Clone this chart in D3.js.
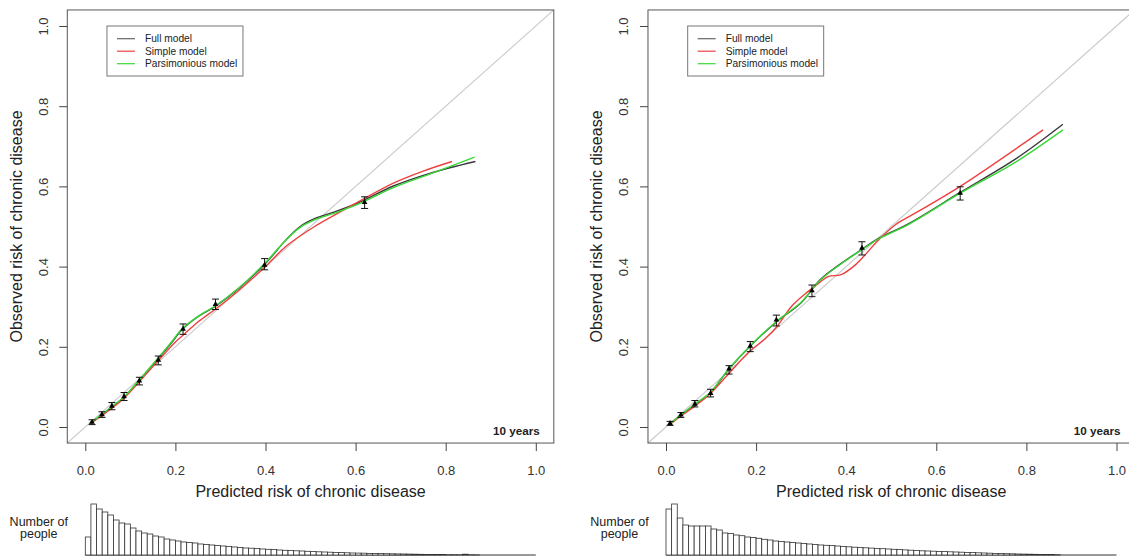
<!DOCTYPE html>
<html>
<head>
<meta charset="utf-8">
<script src="https://cdn.jsdelivr.net/npm/d3@7"></script>
<style>
  body { margin: 0; background: #fff; }
  svg { display: block; font-family: "Liberation Sans", Arial, sans-serif; }
</style>
</head>
<body>
<svg id="chart" width="1129" height="557"></svg>
<script>
// ---- data ----
const axisTicks = [0, 0.2, 0.4, 0.6, 0.8, 1.0];
const legendLabels = ["Full model", "Simple model", "Parsimonious model"];
const horizonLabel = "10 years";
const xTitle = "Predicted risk of chronic disease";
const yTitle = "Observed risk of chronic disease";
const histTitle = ["Number of", "people"];
const binWidth = 0.0125;

// left panel: observed groups (triangles + 95% CI)
const leftPredicted = [0.015, 0.037, 0.059, 0.086, 0.12, 0.162, 0.217, 0.289, 0.398, 0.62];
const leftObserved  = [0.012, 0.031, 0.052, 0.076, 0.115, 0.167, 0.244, 0.306, 0.404, 0.56];
const leftLower     = [0.006, 0.024, 0.043, 0.066, 0.105, 0.155, 0.231, 0.293, 0.392, 0.545];
const leftUpper     = [0.018, 0.038, 0.061, 0.086, 0.124, 0.177, 0.257, 0.319, 0.420, 0.574];

// left panel: smoothed calibration curves [predicted, observed]
const leftFull = [[0.01,0.009],[0.04,0.033],[0.06,0.051],[0.086,0.074],[0.12,0.117],[0.16,0.168],
  [0.19,0.208],[0.215,0.243],[0.25,0.275],[0.29,0.302],[0.34,0.345],[0.4,0.408],[0.445,0.466],
  [0.477,0.5],[0.51,0.52],[0.55,0.535],[0.604,0.558],[0.684,0.601],[0.763,0.632],[0.866,0.662]];
const leftSimple = [[0.01,0.008],[0.04,0.031],[0.06,0.048],[0.086,0.072],[0.12,0.113],[0.16,0.163],
  [0.2,0.212],[0.22,0.232],[0.25,0.262],[0.29,0.295],[0.34,0.34],[0.4,0.4],[0.445,0.45],
  [0.509,0.5],[0.564,0.535],[0.62,0.57],[0.684,0.608],[0.75,0.638],[0.814,0.662]];
const leftParsimonious = [[0.01,0.009],[0.04,0.034],[0.06,0.052],[0.086,0.075],[0.12,0.118],[0.16,0.17],
  [0.19,0.21],[0.215,0.245],[0.25,0.276],[0.29,0.303],[0.34,0.346],[0.4,0.41],[0.445,0.466],
  [0.477,0.498],[0.51,0.517],[0.55,0.532],[0.604,0.555],[0.684,0.597],[0.763,0.63],[0.864,0.673]];

// right panel
const rightPredicted = [0.009, 0.033, 0.064, 0.099, 0.14, 0.187, 0.245, 0.324, 0.435, 0.653];
const rightObserved  = [0.009, 0.030, 0.057, 0.084, 0.145, 0.202, 0.267, 0.340, 0.446, 0.583];
const rightLower     = [0.004, 0.024, 0.050, 0.075, 0.132, 0.188, 0.252, 0.325, 0.429, 0.566];
const rightUpper     = [0.014, 0.036, 0.066, 0.094, 0.153, 0.213, 0.279, 0.354, 0.462, 0.599];

const rightFull = [[0.008,0.007],[0.033,0.029],[0.064,0.056],[0.098,0.085],[0.14,0.145],[0.19,0.205],
  [0.245,0.262],[0.3,0.31],[0.342,0.367],[0.389,0.408],[0.435,0.443],[0.468,0.468],[0.54,0.508],
  [0.653,0.585],[0.778,0.67],[0.881,0.755]];
const rightSimple = [[0.008,0.006],[0.033,0.027],[0.064,0.052],[0.1,0.085],[0.14,0.134],[0.187,0.19],
  [0.22,0.22],[0.246,0.25],[0.278,0.3],[0.31,0.333],[0.334,0.354],[0.36,0.375],[0.389,0.38],
  [0.421,0.405],[0.445,0.433],[0.468,0.462],[0.51,0.505],[0.556,0.535],[0.653,0.6],[0.837,0.741]];
const rightParsimonious = [[0.008,0.007],[0.033,0.03],[0.064,0.057],[0.098,0.086],[0.14,0.146],[0.19,0.206],
  [0.245,0.263],[0.3,0.311],[0.342,0.366],[0.389,0.407],[0.435,0.442],[0.468,0.467],[0.54,0.506],
  [0.653,0.583],[0.778,0.662],[0.881,0.741]];

// histograms of predicted risk (bins of 0.0125 from 0)
const leftCounts = [18, 51, 46, 43, 40, 35, 32, 31, 27, 24, 22, 21, 19, 18, 16, 15, 14, 13, 12.5, 12,
  11, 10.5, 10, 9.5, 9, 8.5, 8, 7.5, 7, 6.8, 6.5, 6, 5.7, 5.4, 5, 4.7, 4.4, 4.2, 4, 3.7,
  3.5, 3.2, 3, 2.8, 2.6, 2.4, 2.2, 2, 1.9, 1.8, 1.6, 1.5, 1.4, 1.3, 1.2, 1.1, 1, 0.9, 0.8, 0.7,
  0.6, 0.5, 0.4, 0.4, 0.3, 0.3, 0.2, 0.8, 0.2, 0.1];
const rightCounts = [46, 51, 37, 30, 29, 29, 29, 29, 26, 25, 22, 21.5, 20, 19.3, 18, 17.5, 16.7, 15.7, 15, 14,
  13.5, 13, 12.5, 12, 11.5, 11, 10.5, 10, 9.7, 9.4, 9, 8.6, 8.2, 7.8, 7.5, 7.2, 6.9, 6.6, 6.3, 6,
  5.7, 5.4, 5.1, 4.8, 4.5, 4.2, 4, 3.8, 3.6, 3.4, 3.2, 3, 2.8, 2.6, 2.4, 2.2, 2, 1.8, 1.6, 1.5,
  1.3, 1.2, 1, 0.9, 0.8, 0.7, 0.6, 0.5, 0.4, 0.3];

// ---- styles / layout ----
const lineColors = ["#3a3a3a", "#ee4040", "#38d838"];
const legendColors = ["#666666", "#ee4040", "#38d838"];
const panelOrigin = [85.3, 666];   // pixel x of predicted = 0 in each panel
const plotWidth = 450.5;

const svg = d3.select("#chart");
const maxCount = d3.max(leftCounts.concat(rightCounts));

drawPanel(0, {
  pred: leftPredicted, obs: leftObserved, lo: leftLower, hi: leftUpper,
  curves: [leftFull, leftSimple, leftParsimonious], counts: leftCounts
});
drawPanel(1, {
  pred: rightPredicted, obs: rightObserved, lo: rightLower, hi: rightUpper,
  curves: [rightFull, rightSimple, rightParsimonious], counts: rightCounts
});

function drawPanel(i, p) {
  const x = d3.scaleLinear().domain([0, 1]).range([panelOrigin[i], panelOrigin[i] + plotWidth]);
  const y = d3.scaleLinear().domain([0, 1]).range([427, 26]);
  const bx0 = x(-0.04), bx1 = x(1.04), by0 = y(1.04), by1 = y(-0.04);

  const g = svg.append("g");

  // clip to plotting region
  svg.append("clipPath").attr("id", "clip" + i)
    .append("rect").attr("x", bx0).attr("y", by0).attr("width", bx1 - bx0).attr("height", by1 - by0);
  const plot = g.append("g").attr("clip-path", `url(#clip${i})`);

  // reference diagonal
  plot.append("line")
    .attr("x1", x(-0.04)).attr("y1", y(-0.04))
    .attr("x2", x(1.04)).attr("y2", y(1.04))
    .attr("stroke", "#cccccc").attr("stroke-width", 1.2);

  // smoothed curves: full, simple, parsimonious
  const line = d3.line()
    .x(d => x(d[0])).y(d => y(d[1]))
    .curve(d3.curveCatmullRom.alpha(0.5));
  plot.selectAll("path.curve")
    .data(p.curves)
    .join("path")
    .attr("class", "curve")
    .attr("d", line)
    .attr("fill", "none")
    .attr("stroke", (d, k) => lineColors[k])
    .attr("stroke-width", 1.4);

  // error bars
  const idx = d3.range(p.pred.length);
  const eb = plot.append("g").attr("stroke", "#111").attr("stroke-width", 1);
  eb.selectAll("line.v").data(idx).join("line").attr("class", "v")
    .attr("x1", k => x(p.pred[k])).attr("x2", k => x(p.pred[k]))
    .attr("y1", k => y(p.lo[k])).attr("y2", k => y(p.hi[k]));
  eb.selectAll("line.lo").data(idx).join("line").attr("class", "lo")
    .attr("x1", k => x(p.pred[k]) - 3.5).attr("x2", k => x(p.pred[k]) + 3.5)
    .attr("y1", k => y(p.lo[k])).attr("y2", k => y(p.lo[k]));
  eb.selectAll("line.hi").data(idx).join("line").attr("class", "hi")
    .attr("x1", k => x(p.pred[k]) - 3.5).attr("x2", k => x(p.pred[k]) + 3.5)
    .attr("y1", k => y(p.hi[k])).attr("y2", k => y(p.hi[k]));

  // observed points (filled triangles)
  plot.selectAll("path.pt").data(idx).join("path").attr("class", "pt")
    .attr("d", d3.symbol(d3.symbolTriangle, 14))
    .attr("transform", k => `translate(${x(p.pred[k])},${y(p.obs[k])})`)
    .attr("fill", "#000");

  // box
  g.append("rect")
    .attr("x", bx0).attr("y", by0).attr("width", bx1 - bx0).attr("height", by1 - by0)
    .attr("fill", "none").attr("stroke", "#555").attr("stroke-width", 1);

  // x axis
  const xg = g.append("g")
    .attr("transform", `translate(0,${by1})`)
    .call(d3.axisBottom(x).tickValues(axisTicks).tickFormat(d3.format(".1f"))
      .tickSize(8).tickSizeOuter(0).tickPadding(15));
  xg.select(".domain").remove();
  xg.selectAll("line").attr("stroke", "#444");
  xg.selectAll("text").attr("fill", "#333").style("font-size", "13px")
    .style("font-family", "Liberation Sans, Arial, sans-serif");

  // y axis, R-style rotated labels
  const yg = g.append("g")
    .attr("transform", `translate(${bx0},0)`)
    .call(d3.axisLeft(y).tickValues(axisTicks).tickFormat(d3.format(".1f"))
      .tickSize(8).tickSizeOuter(0));
  yg.select(".domain").remove();
  yg.selectAll("line").attr("stroke", "#444");
  yg.selectAll("text")
    .attr("transform", "rotate(-90)")
    .attr("x", 0).attr("y", -19.6).attr("dy", 0)
    .attr("text-anchor", "middle")
    .attr("fill", "#333").style("font-size", "13px")
    .style("font-family", "Liberation Sans, Arial, sans-serif");

  // axis titles
  g.append("text")
    .attr("x", (x(0) + x(1)) / 2).attr("y", 497.3)
    .attr("text-anchor", "middle").attr("fill", "#222").style("font-size", "16px")
    .text(xTitle);
  g.append("text")
    .attr("transform", `translate(${bx0 - 45.5},${(y(0) + y(1)) / 2}) rotate(-90)`)
    .attr("text-anchor", "middle").attr("fill", "#222").style("font-size", "16px")
    .text(yTitle);

  // legend
  const lg = g.append("g").attr("transform", `translate(${bx0 + 39.7},26)`);
  lg.append("rect").attr("width", 136).attr("height", 50)
    .attr("fill", "#fff").attr("stroke", "#777").attr("stroke-width", 1);
  const rows = lg.selectAll("g.row").data(legendLabels).join("g").attr("class", "row")
    .attr("transform", (d, k) => `translate(0,${12.7 + k * 12.5})`);
  rows.append("line").attr("x1", 10).attr("x2", 28)
    .attr("stroke", (d, k) => legendColors[k]).attr("stroke-width", 1.2);
  rows.append("text").attr("x", 38).attr("dy", "0.36em")
    .attr("fill", "#222").style("font-size", "10.2px").text(d => d);

  // horizon label
  g.append("text")
    .attr("x", x(1) + 4).attr("y", 435)
    .attr("text-anchor", "end").attr("fill", "#222")
    .style("font-size", "11.7px").style("font-weight", "bold")
    .text(horizonLabel);

  // histogram of predicted risks
  const hy = d3.scaleLinear().domain([0, maxCount]).range([555, 504]);
  const hg = g.append("g");
  hg.append("line")
    .attr("x1", x(0)).attr("x2", x(1)).attr("y1", hy(0)).attr("y2", hy(0))
    .attr("stroke", "#333").attr("stroke-width", 1);
  hg.selectAll("rect").data(p.counts).join("rect")
    .attr("x", (d, k) => x(k * binWidth))
    .attr("width", x(binWidth) - x(0))
    .attr("y", d => hy(d))
    .attr("height", d => hy(0) - hy(d))
    .attr("fill", "#fff").attr("stroke", "#333").attr("stroke-width", 0.8);
  hg.selectAll("text").data(histTitle).join("text")
    .attr("x", x(0) - 46.5).attr("y", (d, k) => 526 + k * 12.3)
    .attr("text-anchor", "middle").attr("fill", "#222").style("font-size", "12.5px")
    .text(d => d);
}
</script>
</body>
</html>
